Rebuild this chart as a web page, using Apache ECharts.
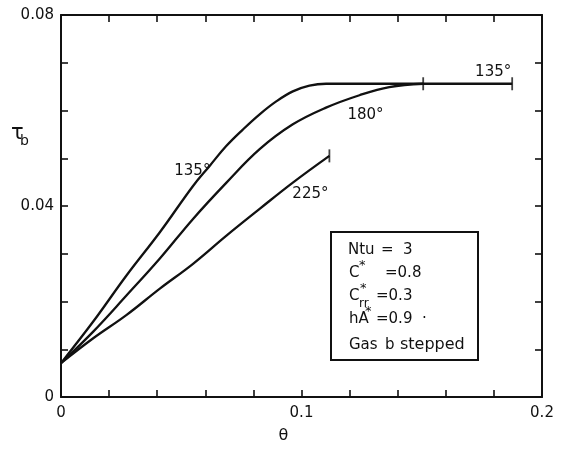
<!DOCTYPE html>
<html>
<head>
<meta charset="utf-8">
<script src="https://cdn.jsdelivr.net/npm/echarts@6/dist/echarts.min.js"></script>
<style>html,body{margin:0;padding:0;background:#fff}#c{width:562px;height:449px}</style>
</head>
<body>
<div id="c"></div>
<script>
// ---- data ----
const theta135 = [0, 0.0134, 0.0273, 0.0411, 0.0549, 0.0618, 0.0688, 0.0756, 0.0826, 0.0895, 0.0964, 0.1033, 0.1102, 0.1506, 0.1876];
const tau135   = [0.0071, 0.0158, 0.0255, 0.0345, 0.0442, 0.0484, 0.0526, 0.0560, 0.0592, 0.0619, 0.0640, 0.0652, 0.0656, 0.0656, 0.0656];
const theta180 = [0, 0.0134, 0.0273, 0.0411, 0.0549, 0.0688, 0.0826, 0.0964, 0.1102, 0.1241, 0.1365, 0.1506];
const tau180   = [0.0071, 0.0137, 0.0213, 0.0290, 0.0373, 0.0449, 0.0519, 0.0571, 0.0606, 0.0632, 0.0649, 0.0656];
const theta225 = [0, 0.0134, 0.0273, 0.0411, 0.0549, 0.0688, 0.0826, 0.0964, 0.1116];
const tau225   = [0.0071, 0.0123, 0.0172, 0.0227, 0.0279, 0.0338, 0.0394, 0.0449, 0.0505];
const curveLabels = ['135°', '180°', '225°', '135°'];
const labelTheta  = [0.0546, 0.1266, 0.1037, 0.1797];
const labelTau    = [0.0474, 0.0590, 0.0425, 0.0681];
const xTickLabels = ['0', '0.1', '0.2'];
const yTickLabels = ['0', '0.04', '0.08'];

const FONT = 'DejaVu Sans';
const INK = '#111';
const zip = (a, b) => a.map((v, i) => [v, b[i]]);
const ends = [
  [theta135[theta135.length - 1], tau135[tau135.length - 1]],
  [theta180[theta180.length - 1], tau180[tau180.length - 1]],
  [theta225[theta225.length - 1], tau225[tau225.length - 1]]
];

const chart = echarts.init(document.getElementById('c'), null, {renderer: 'canvas'});
const lineStyle = {color: INK, width: 2.3};
const axisCommon = () => ({
  axisLine: {show: true, onZero: false, lineStyle: {color: INK, width: 2}},
  axisTick: {show: true, inside: true, length: 7, lineStyle: {color: INK, width: 1.6}},
  splitLine: {show: false}
});
const curve = (data) => ({
  type: 'line', data, smooth: 0.4, symbol: 'none',
  lineStyle, itemStyle: {color: INK}, silent: true, animation: false
});
const T = (x, y, text, size) => ({type: 'text', x, y, style: {text, font: size + 'px ' + FONT, fill: INK, verticalAlign: 'middle'}});

chart.setOption({
  animation: false,
  grid: {left: 61, top: 15, right: 20, bottom: 51},
  xAxis: [
    Object.assign({
      type: 'value', min: 0, max: 0.2, interval: 0.02,
      name: 'θ', nameLocation: 'middle', nameGap: 31,
      nameTextStyle: {fontFamily: FONT, fontSize: 16, color: INK, padding: [0, 36, 0, 0]},
      axisLabel: {
        margin: 9, fontFamily: FONT, fontSize: 15, color: INK,
        formatter: v => { const k = Math.round(v * 100); return k % 10 === 0 ? xTickLabels[k / 10] : ''; }
      }
    }, axisCommon()),
    Object.assign({type: 'value', position: 'top', min: 0, max: 0.2, interval: 0.02, axisLabel: {show: false}}, axisCommon())
  ],
  yAxis: [
    Object.assign({
      type: 'value', min: 0, max: 0.08, interval: 0.01,
      axisLabel: {
        margin: 7, fontFamily: FONT, fontSize: 15, color: INK,
        formatter: v => { const k = Math.round(v * 100); return k % 4 === 0 ? yTickLabels[k / 4] : ''; }
      }
    }, axisCommon()),
    Object.assign({type: 'value', position: 'right', min: 0, max: 0.08, interval: 0.01, axisLabel: {show: false}}, axisCommon())
  ],
  series: [
    curve(zip(theta135, tau135)),
    curve(zip(theta180, tau180)),
    curve(zip(theta225, tau225)),
    {
      type: 'scatter', data: ends, symbol: 'rect', symbolSize: [1.8, 13],
      itemStyle: {color: INK}, silent: true
    }
  ],
  graphic: [
    // y-axis name tau_b
    {type: 'text', left: 11, top: 123, style: {text: 'τ', font: '21px ' + FONT, fill: INK}},
    {type: 'text', left: 20, top: 134, style: {text: 'b', font: '14px ' + FONT, fill: INK}},
    // parameter box
    {type: 'rect', shape: {x: 331, y: 232, width: 147, height: 128}, style: {fill: '#fff', stroke: INK, lineWidth: 2}},
    T(348, 250, 'Ntu', 15), T(381, 250, '=  3', 15),
    T(349, 273, 'C', 15), T(359, 266, '*', 13), T(385, 273, '=0.8', 15),
    T(349, 296, 'C', 15), T(360, 289, '*', 13), T(359, 304, 'rr', 12), T(376, 296, '=0.3', 15),
    T(349, 319, 'hA', 15), T(365, 312, '*', 13), T(376, 319, '=0.9', 15), T(422, 319, '·', 15),
    T(349, 345, 'Gas', 15), T(385, 345, 'b', 15), T(400, 345, 'stepped', 16)
  ]
});

// curve labels placed through the grid's own scales
const labelGraphics = curveLabels.map((t, i) => {
  const p = chart.convertToPixel({gridIndex: 0}, [labelTheta[i], labelTau[i]]);
  return {type: 'text', x: p[0], y: p[1], style: {text: t, font: '15px ' + FONT, fill: INK, align: 'center', verticalAlign: 'middle'}};
});
chart.setOption({graphic: chart.getOption().graphic[0].elements.concat(labelGraphics)});
</script>
</body>
</html>
